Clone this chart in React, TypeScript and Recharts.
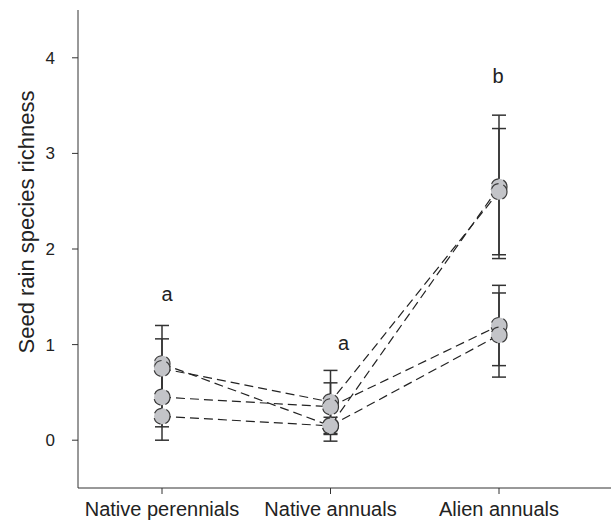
import React from "react";
import {
  LineChart,
  Line,
  XAxis,
  YAxis,
  ErrorBar,
  ReferenceDot,
} from "recharts";

// groups on the x axis
const groups = ["Native perennials", "Native annuals", "Alien annuals"];

// mean richness per site (4 sites), one value per group
const site1 = [0.8, 0.15, 2.65];
const site2 = [0.75, 0.4, 2.6];
const site3 = [0.45, 0.35, 1.2];
const site4 = [0.25, 0.15, 1.1];

// error bars [below, above] per group
const site1Err = [[0.4, 0.4], [0.16, 0.16], [0.75, 0.75]];
const site2Err = [[0.31, 0.31], [0.33, 0.33], [0.66, 0.66]];
const site3Err = [[0.31, 0.31], [0.25, 0.25], [0.42, 0.42]];
const site4Err = [[0.25, 0.25], [0.09, 0.09], [0.44, 0.44]];

// significance letters and their heights
const letters = ["a", "a", "b"];
const letterY = [1.53, 1.02, 3.81];

const yTicks = [0, 1, 2, 3, 4];

const data = groups.map((g, i) => ({
  group: g,
  s1: site1[i],
  s1e: site1Err[i],
  s2: site2[i],
  s2e: site2Err[i],
  s3: site3[i],
  s3e: site3Err[i],
  s4: site4[i],
  s4e: site4Err[i],
}));

const FONT = "'Liberation Sans', Arial, Helvetica, sans-serif";
const AXIS = "#333";
// letters sit a little right of the category centre in the original
const letterDx = [5, 13, -1];

const YLabel = ({ viewBox }: any) => {
  const cx = viewBox.x + 26;
  const cy = viewBox.y + viewBox.height / 2 - 27;
  return (
    <text
      x={cx}
      y={cy}
      transform={`rotate(-90, ${cx}, ${cy})`}
      textAnchor="middle"
      dominantBaseline="central"
      fontSize={22}
      fill="#222"
      fontFamily={FONT}
    >
      Seed rain species richness
    </text>
  );
};

const series = ["s1", "s2", "s3", "s4"];

export default function App() {
  return (
    <div style={{ position: "absolute", left: 0, top: 0, background: "#fff" }}>
      <LineChart
        width={611}
        height={524}
        data={data}
        margin={{ top: 10, right: 0, bottom: 0, left: 0 }}
        style={{ fontFamily: FONT }}
      >
        <XAxis
          dataKey="group"
          padding={{ left: 84, right: 112 }}
          height={36}
          stroke={AXIS}
          tickSize={6}
          tick={{ fontSize: 20, fill: "#222", dy: 6 }}
          interval={0}
        />
        <YAxis
          type="number"
          domain={[-0.5, 4.5]}
          ticks={yTicks}
          width={78}
          stroke={AXIS}
          tickSize={6}
          tick={{ fontSize: 17, fill: "#222", dx: -15 }}
          label={<YLabel />}
        />
        {series.map((s) => (
          <Line
            key={s}
            dataKey={s}
            stroke="#222"
            strokeWidth={1.2}
            strokeDasharray="9 5"
            isAnimationActive={false}
            dot={{ r: 8, fill: "#c3c4c8", stroke: "#3a3a3a", strokeWidth: 1.2 }}
            activeDot={false}
          >
            <ErrorBar
              dataKey={`${s}e`}
              width={7}
              stroke="#333"
              strokeWidth={1.5}
              direction="y"
            />
          </Line>
        ))}
        {groups.map((g, i) => (
          <ReferenceDot
            key={g}
            x={g}
            y={letterY[i]}
            r={1}
            fill="none"
            stroke="none"
            label={{
              value: letters[i],
              position: "center",
              fontSize: 20,
              fill: "#222",
              dx: letterDx[i],
            }}
          />
        ))}
      </LineChart>
    </div>
  );
}
